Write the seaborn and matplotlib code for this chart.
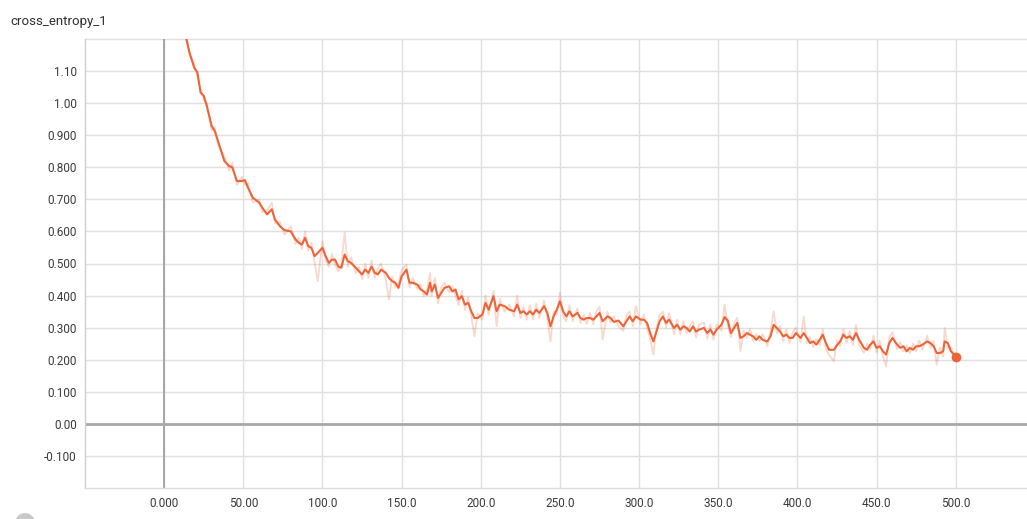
import matplotlib
matplotlib.use("Agg")
import matplotlib.pyplot as plt
from matplotlib.patches import Circle
import numpy as np
import pandas as pd
import seaborn as sns

# ---- data -------------------------------------------------------------
steps = [
    14, 16, 19, 21, 23, 25, 27, 30, 32, 34,
    38, 41, 43, 46, 49, 51, 53, 56, 60, 62,
    65, 68, 70, 73, 76, 80, 83, 85, 87, 89,
    91, 93, 95, 97, 100, 102, 104, 106, 108, 110,
    112, 114, 116, 118, 121, 123, 125, 127, 129, 131,
    133, 135, 137, 140, 142, 144, 146, 148, 150, 153,
    155, 157, 160, 162, 164, 166, 168, 169, 171, 173,
    175, 177, 180, 182, 184, 186, 188, 190, 192, 194,
    196, 198, 201, 203, 205, 208, 210, 212, 215, 218,
    221, 223, 225, 227, 229, 231, 233, 235, 237, 240,
    242, 244, 246, 248, 250, 252, 254, 256, 258, 261,
    263, 265, 267, 269, 271, 273, 275, 277, 280, 282,
    284, 287, 290, 292, 294, 296, 298, 301, 303, 305,
    307, 309, 311, 313, 315, 317, 319, 322, 324, 326,
    328, 330, 332, 334, 336, 338, 341, 343, 345, 347,
    349, 352, 354, 356, 358, 360, 362, 364, 366, 368,
    370, 372, 374, 376, 378, 381, 383, 385, 387, 389,
    391, 393, 395, 397, 399, 402, 404, 406, 408, 410,
    412, 414, 416, 418, 420, 423, 425, 427, 429, 431,
    433, 435, 437, 439, 442, 444, 446, 448, 450, 452,
    454, 456, 458, 460, 463, 465, 467, 469, 471, 473,
    475, 477, 479, 482, 484, 486, 488, 490, 492, 493,
    495, 497, 500,
]

# smoothed cross-entropy
loss_smooth = [
    1.200, 1.158, 1.110, 1.096, 1.033, 1.023, 0.990, 0.929, 0.913, 0.882,
    0.820, 0.804, 0.800, 0.757, 0.757, 0.760, 0.736, 0.705, 0.690, 0.674,
    0.653, 0.669, 0.637, 0.617, 0.604, 0.600, 0.575, 0.565, 0.559, 0.580,
    0.554, 0.549, 0.523, 0.533, 0.549, 0.523, 0.502, 0.512, 0.512, 0.490,
    0.487, 0.528, 0.507, 0.502, 0.487, 0.476, 0.466, 0.481, 0.471, 0.490,
    0.471, 0.466, 0.481, 0.471, 0.455, 0.445, 0.440, 0.424, 0.460, 0.481,
    0.440, 0.440, 0.434, 0.419, 0.413, 0.403, 0.440, 0.413, 0.434, 0.393,
    0.408, 0.424, 0.429, 0.413, 0.419, 0.388, 0.398, 0.372, 0.377, 0.351,
    0.330, 0.330, 0.341, 0.377, 0.356, 0.398, 0.351, 0.372, 0.367, 0.356,
    0.351, 0.372, 0.346, 0.351, 0.341, 0.351, 0.341, 0.356, 0.346, 0.367,
    0.346, 0.304, 0.335, 0.356, 0.382, 0.351, 0.335, 0.351, 0.335, 0.346,
    0.330, 0.325, 0.330, 0.330, 0.325, 0.335, 0.346, 0.320, 0.335, 0.330,
    0.318, 0.322, 0.304, 0.320, 0.335, 0.320, 0.335, 0.325, 0.325, 0.315,
    0.283, 0.257, 0.288, 0.320, 0.335, 0.315, 0.325, 0.299, 0.309, 0.294,
    0.304, 0.299, 0.288, 0.304, 0.288, 0.294, 0.299, 0.283, 0.294, 0.278,
    0.294, 0.309, 0.333, 0.322, 0.283, 0.299, 0.315, 0.268, 0.273, 0.283,
    0.278, 0.273, 0.262, 0.273, 0.262, 0.257, 0.273, 0.309, 0.299, 0.288,
    0.273, 0.278, 0.268, 0.268, 0.283, 0.268, 0.283, 0.268, 0.252, 0.257,
    0.247, 0.262, 0.278, 0.252, 0.231, 0.231, 0.245, 0.257, 0.278, 0.268,
    0.273, 0.262, 0.283, 0.262, 0.237, 0.231, 0.247, 0.257, 0.237, 0.242,
    0.226, 0.216, 0.252, 0.268, 0.247, 0.237, 0.242, 0.226, 0.237, 0.231,
    0.242, 0.242, 0.247, 0.257, 0.252, 0.242, 0.221, 0.221, 0.226, 0.257,
    0.252, 0.226, 0.210,
]

# raw (unsmoothed) cross-entropy
loss_raw = [
    1.215, 1.150, 1.125, 1.080, 1.045, 1.010, 1.000, 0.915, 0.925, 0.870,
    0.835, 0.790, 0.815, 0.745, 0.770, 0.745, 0.750, 0.690, 0.700, 0.660,
    0.665, 0.690, 0.625, 0.630, 0.590, 0.615, 0.560, 0.580, 0.545, 0.600,
    0.540, 0.565, 0.505, 0.445, 0.570, 0.510, 0.490, 0.530, 0.495, 0.475,
    0.500, 0.597, 0.490, 0.520, 0.470, 0.490, 0.450, 0.500, 0.455, 0.510,
    0.455, 0.485, 0.500, 0.450, 0.388, 0.460, 0.425, 0.440, 0.480, 0.497,
    0.425, 0.455, 0.420, 0.435, 0.398, 0.420, 0.470, 0.400, 0.455, 0.375,
    0.425, 0.440, 0.410, 0.430, 0.400, 0.370, 0.415, 0.355, 0.395, 0.335,
    0.273, 0.345, 0.325, 0.400, 0.340, 0.415, 0.304, 0.390, 0.350, 0.372,
    0.335, 0.400, 0.330, 0.365, 0.325, 0.370, 0.325, 0.375, 0.330, 0.385,
    0.330, 0.257, 0.350, 0.340, 0.410, 0.335, 0.320, 0.370, 0.320, 0.360,
    0.315, 0.340, 0.312, 0.345, 0.310, 0.350, 0.365, 0.263, 0.350, 0.315,
    0.335, 0.305, 0.290, 0.340, 0.350, 0.305, 0.367, 0.310, 0.340, 0.300,
    0.265, 0.216, 0.300, 0.340, 0.350, 0.300, 0.345, 0.280, 0.325, 0.278,
    0.320, 0.282, 0.305, 0.320, 0.270, 0.310, 0.315, 0.265, 0.310, 0.262,
    0.310, 0.290, 0.372, 0.305, 0.270, 0.315, 0.330, 0.226, 0.290, 0.268,
    0.295, 0.258, 0.280, 0.258, 0.280, 0.242, 0.290, 0.351, 0.282, 0.305,
    0.258, 0.295, 0.252, 0.285, 0.300, 0.255, 0.335, 0.252, 0.270, 0.240,
    0.265, 0.245, 0.295, 0.235, 0.215, 0.195, 0.260, 0.242, 0.295, 0.252,
    0.290, 0.246, 0.309, 0.245, 0.222, 0.250, 0.232, 0.275, 0.222, 0.260,
    0.210, 0.179, 0.270, 0.285, 0.232, 0.255, 0.226, 0.245, 0.220, 0.250,
    0.226, 0.260, 0.232, 0.275, 0.236, 0.258, 0.184, 0.238, 0.210, 0.299,
    0.235, 0.240, 0.205,
]

x_ticks = [0, 50, 100, 150, 200, 250, 300, 350, 400, 450, 500]
x_tick_labels = ["0.000", "50.00", "100.0", "150.0", "200.0", "250.0",
                 "300.0", "350.0", "400.0", "450.0", "500.0"]
y_ticks = [-0.1, 0.0, 0.1, 0.2, 0.3, 0.4, 0.5, 0.6, 0.7, 0.8, 0.9, 1.0, 1.1]
y_tick_labels = ["-0.100", "0.00", "0.100", "0.200", "0.300", "0.400",
                 "0.500", "0.600", "0.700", "0.800", "0.900", "1.00", "1.10"]
chart_title = "cross_entropy_1"

# ---- styling ----------------------------------------------------------
sns.set_theme(style="whitegrid")
plt.rcParams["font.family"] = ["Roboto", "DejaVu Sans"]

ORANGE = "#EC6437"
GRID = "#e0e0e0"

n = min(len(steps), len(loss_smooth), len(loss_raw))
df = pd.DataFrame({"step": steps[:n], "smooth": loss_smooth[:n], "raw": loss_raw[:n]})

fig = plt.figure(figsize=(10.27, 5.19), dpi=100)
ax = fig.add_axes([85 / 1027, 31 / 519, 1 - 85 / 1027, 449 / 519])

# faint raw series behind the smoothed curve
sns.lineplot(data=df, x="step", y="raw", ax=ax, color=ORANGE, alpha=0.25,
             linewidth=1.3, zorder=3)
sns.lineplot(data=df, x="step", y="smooth", ax=ax, color=ORANGE,
             linewidth=1.5, zorder=4)
# marker at the latest step
ax.plot(df["step"].iloc[-1], df["smooth"].iloc[-1], "o", color=ORANGE,
        markersize=6, zorder=5)

ax.set_xlim(-50, 545)
ax.set_ylim(-0.2, 1.2)

ax.set_xticks(x_ticks)
ax.set_xticklabels(x_tick_labels)
ax.set_yticks(y_ticks)
ax.set_yticklabels(y_tick_labels)
ax.set_xlabel("")
ax.set_ylabel("")

ax.grid(True, color=GRID, linewidth=1.0)
ax.set_axisbelow(True)
ax.tick_params(axis="both", length=0, labelsize=8.5, labelcolor="#3a3a3a")
ax.tick_params(axis="x", pad=6.5)
ax.tick_params(axis="y", pad=6)

# zero reference lines
ax.axvline(0, color="#a0a0a0", linewidth=1.3, zorder=2)
ax.axhline(0, color="#a8a8a8", linewidth=2.0, zorder=2)
# top line at the upper limit
ax.axhline(1.2, color=GRID, linewidth=1.0, zorder=1, clip_on=False)

for side in ("top", "right"):
    ax.spines[side].set_visible(False)
ax.spines["left"].set_color("#cfcfcf")
ax.spines["left"].set_linewidth(1.0)
ax.spines["bottom"].set_color("#dcdcdc")
ax.spines["bottom"].set_linewidth(1.0)

fig.text(10 / 1027, 1 - 25 / 519, chart_title, fontsize=9.5,
         color="#2e2e2e", va="baseline", ha="left")

# round control button partly visible at the lower-left corner
fig.patches.append(Circle((0.25, -0.04), 0.10, transform=fig.dpi_scale_trans,
                          facecolor="#c9c9c9", edgecolor="none"))

fig.savefig("out.png", dpi=100)
